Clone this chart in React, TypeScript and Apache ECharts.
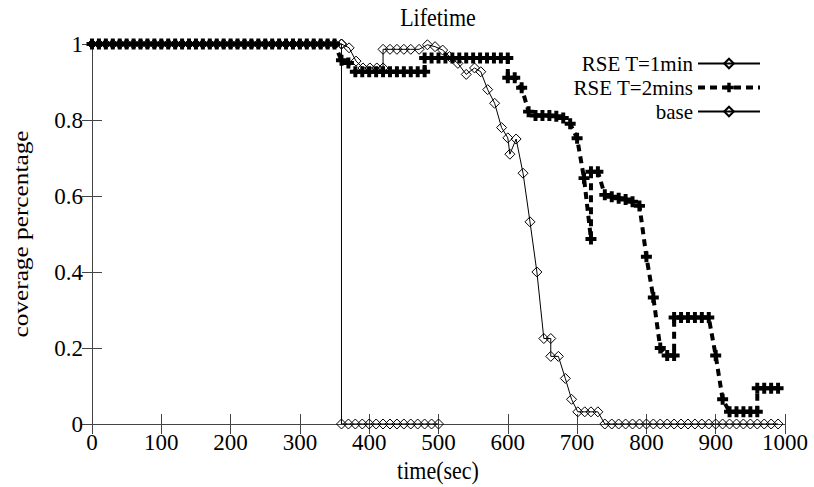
import React, { useEffect, useRef } from "react";
import * as echarts from "echarts";

// ---- data ----
const xTicks = [0, 100, 200, 300, 400, 500, 600, 700, 800, 900, 1000];
const yTicks = [0, 0.2, 0.4, 0.6, 0.8, 1];

const rse1Times = [
  0, 10, 20, 30, 40, 50, 60, 70, 80, 90, 100, 110, 120, 130, 140, 150, 160, 170, 180, 190,
  200, 210, 220, 230, 240, 250, 260, 270, 280, 290, 300, 310, 320, 330, 340, 350, 360,
  371, 381, 391, 401, 411, 420, 420, 430, 440, 450, 460, 472, 484, 495, 506, 516, 528,
  540, 552, 561, 571, 581, 591, 600, 603, 612, 622, 632, 642, 652, 662, 662, 673, 683,
  692, 701, 711, 720, 730, 740, 750, 760, 770, 780, 790, 800, 810, 820, 830, 840, 850,
  860, 870, 880, 890, 900, 910, 920, 930, 940, 950, 960, 970, 980, 990,
];
const rse1Values = [
  1, 1, 1, 1, 1, 1, 1, 1, 1, 1, 1, 1, 1, 1, 1, 1, 1, 1, 1, 1,
  1, 1, 1, 1, 1, 1, 1, 1, 1, 1, 1, 1, 1, 1, 1, 1, 1,
  0.99, 0.955, 0.937, 0.937, 0.937, 0.937, 0.986, 0.986, 0.986, 0.986, 0.986, 0.986, 0.998, 0.993, 0.984, 0.967, 0.949,
  0.92, 0.937, 0.927, 0.88, 0.844, 0.78, 0.753, 0.71, 0.75, 0.66, 0.532, 0.4, 0.225, 0.225, 0.178, 0.178, 0.12,
  0.065, 0.032, 0.032, 0.032, 0.032, 0, 0, 0, 0, 0, 0, 0, 0, 0, 0, 0, 0,
  0, 0, 0, 0, 0, 0, 0, 0, 0, 0, 0, 0, 0, 0,
];

const rse2Times = [
  0, 10, 20, 30, 40, 50, 60, 70, 80, 90, 100, 110, 120, 130, 140, 150, 160, 170, 180, 190,
  200, 210, 220, 230, 240, 250, 260, 270, 280, 290, 300, 310, 320, 330, 340, 350,
  360, 370, 380, 390, 400, 410, 420, 430, 440, 450, 460, 470, 480, 480, 490, 500, 510,
  520, 530, 540, 550, 560, 570, 580, 590, 600, 600, 610, 620, 630, 640, 650, 660, 670,
  680, 690, 700, 710, 720, 720, 730, 740, 750, 760, 770, 780, 790, 800, 810, 820, 830,
  840, 840, 850, 860, 870, 880, 890, 900, 910, 920, 930, 940, 950, 960, 960, 970, 980, 990,
];
const rse2Values = [
  1, 1, 1, 1, 1, 1, 1, 1, 1, 1, 1, 1, 1, 1, 1, 1, 1, 1, 1, 1,
  1, 1, 1, 1, 1, 1, 1, 1, 1, 1, 1, 1, 1, 1, 1, 1,
  0.957, 0.95, 0.927, 0.927, 0.927, 0.927, 0.927, 0.927, 0.927, 0.927, 0.927, 0.927, 0.927, 0.963, 0.963, 0.963, 0.963,
  0.963, 0.963, 0.963, 0.963, 0.963, 0.963, 0.963, 0.963, 0.963, 0.911, 0.911, 0.885, 0.822, 0.812, 0.812, 0.812, 0.81,
  0.805, 0.79, 0.752, 0.647, 0.487, 0.664, 0.664, 0.603, 0.598, 0.594, 0.591, 0.585, 0.574, 0.44, 0.333, 0.2, 0.18,
  0.18, 0.28, 0.28, 0.28, 0.28, 0.28, 0.28, 0.18, 0.065, 0.032, 0.032, 0.032, 0.032, 0.032, 0.094, 0.094, 0.094, 0.094,
];

const baseTimes = [
  0, 10, 20, 30, 40, 50, 60, 70, 80, 90, 100, 110, 120, 130, 140, 150, 160, 170, 180, 190,
  200, 210, 220, 230, 240, 250, 260, 270, 280, 290, 300, 310, 320, 330, 340, 350, 360,
  360, 370, 380, 390, 400, 410, 420, 430, 440, 450, 460, 470, 480, 490, 500,
];
const baseValues = [
  1, 1, 1, 1, 1, 1, 1, 1, 1, 1, 1, 1, 1, 1, 1, 1, 1, 1, 1, 1,
  1, 1, 1, 1, 1, 1, 1, 1, 1, 1, 1, 1, 1, 1, 1, 1, 1,
  0, 0, 0, 0, 0, 0, 0, 0, 0, 0, 0, 0, 0, 0, 0,
];

const seriesNames = ["RSE T=1min", "RSE T=2mins", "base"];

const FONT = "'Liberation Serif', 'Times New Roman', serif";
const PLUS = "path://M3.2,0H6.8V3.2H10V6.8H6.8V10H3.2V6.8H0V3.2H3.2Z";
const DASH = [7, 5];

function pairs(t: number[], v: number[]) {
  return t.map((x, i) => [x, v[i]]);
}

export default function App() {
  const ref = useRef<HTMLDivElement>(null);
  useEffect(() => {
    if (!ref.current) return;
    const chart = echarts.init(ref.current, null, { renderer: "svg" });
    const axisLine = { show: true, lineStyle: { color: "#444", width: 1 } };
    const tick = { show: true, inside: true, length: 10, lineStyle: { color: "#444", width: 1 } };
    const xBase = {
      type: "value",
      min: xTicks[0],
      max: xTicks[xTicks.length - 1],
      interval: xTicks[1] - xTicks[0],
      splitLine: { show: false },
      axisLine,
      axisTick: tick,
    };
    const yBase = {
      type: "value",
      min: yTicks[0],
      max: yTicks[yTicks.length - 1],
      interval: 0.2,
      splitLine: { show: false },
      axisLine,
      axisTick: tick,
    };
    const diamondStyle = {
      color: "rgba(0,0,0,0)",
      borderColor: "#000",
      borderWidth: 1,
    };
    const bigText = (text: string, x: number, y: number, rotation = 0) => ({
      type: "text",
      x,
      y,
      rotation,
      scaleY: rotation ? 1 : 1.15,
      scaleX: rotation ? 1.15 : 1,
      style: { text, fontSize: 22, fontFamily: FONT, fill: "#000", textAlign: "center", textVerticalAlign: "middle" },
    });
    chart.setOption({
      animation: false,
      backgroundColor: "#fff",
      textStyle: { fontFamily: FONT },
      grid: { left: 92, right: 29, top: 44, bottom: 63, containLabel: false },
      graphic: [
        bigText("Lifetime", 438, 17),
        bigText("time(sec)", 438, 470),
        bigText("coverage percentage", 21, 234, Math.PI / 2),
      ],
      legend: {
        data: [
          { name: seriesNames[0] },
          { name: seriesNames[1], lineStyle: { width: 4, type: DASH, color: "#000" } },
          { name: seriesNames[2] },
        ],
        orient: "vertical",
        align: "right",
        right: 52,
        top: 53,
        padding: 0,
        itemGap: 3,
        itemWidth: 62,
        itemHeight: 12,
        textStyle: { fontSize: 21, fontFamily: FONT, color: "#000", lineHeight: 21 },
      },
      xAxis: [
        {
          ...xBase,
          position: "bottom",
          axisLabel: {
            show: true,
            fontSize: 23,
            fontFamily: FONT,
            color: "#000",
            margin: 7,
            formatter: (v: number) => String(v),
          },
        },
        { ...xBase, position: "top", axisLabel: { show: false } },
      ],
      yAxis: [
        {
          ...yBase,
          position: "left",
          axisLabel: {
            show: true,
            fontSize: 23,
            fontFamily: FONT,
            color: "#000",
            margin: 9,
            formatter: (v: number) => String(Math.round(v * 10) / 10),
          },
        },
        { ...yBase, position: "right", axisLabel: { show: false } },
      ],
      series: [
        {
          name: seriesNames[0],
          type: "line",
          data: pairs(rse1Times, rse1Values),
          symbol: "diamond",
          symbolSize: 10,
          showAllSymbol: true,
          clip: false,
          itemStyle: diamondStyle,
          lineStyle: { color: "#000", width: 1 },
          z: 2,
        },
        {
          name: seriesNames[1],
          type: "line",
          data: pairs(rse2Times, rse2Values),
          symbol: PLUS,
          symbolSize: 11,
          showAllSymbol: true,
          clip: false,
          itemStyle: { color: "#000" },
          lineStyle: { color: "#000", width: 4, type: DASH },
          z: 3,
        },
        {
          name: seriesNames[2],
          type: "line",
          data: pairs(baseTimes, baseValues),
          symbol: "diamond",
          symbolSize: 10,
          showAllSymbol: true,
          clip: false,
          itemStyle: diamondStyle,
          lineStyle: { color: "#000", width: 1 },
          z: 4,
        },
      ],
    });
    return () => chart.dispose();
  }, []);
  return <div ref={ref} style={{ width: 814, height: 487, position: "absolute", left: 0, top: 0 }} />;
}
